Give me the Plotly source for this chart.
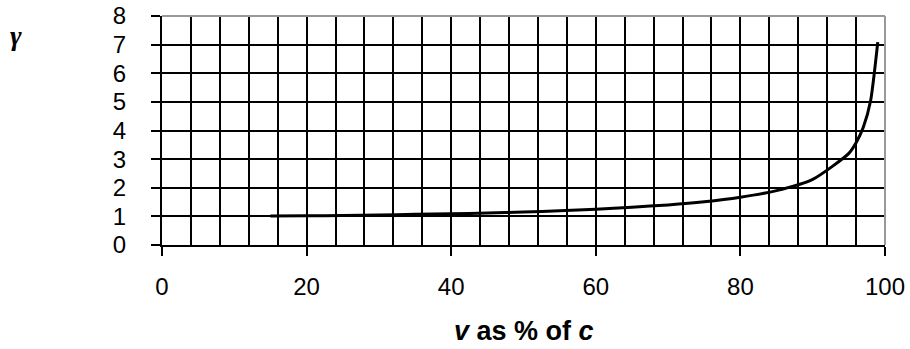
import plotly.graph_objects as go

# data
v_percent = [15, 20, 25, 30, 35, 40, 45, 50, 55, 60, 65, 70, 75, 80, 85, 90, 95, 96, 97, 98, 99]
gamma = [1.01, 1.02, 1.03, 1.05, 1.07, 1.09, 1.12, 1.15, 1.20, 1.25, 1.32, 1.40, 1.51,
         1.67, 1.90, 2.29, 3.20, 3.57, 4.11, 5.03, 7.09]
x_ticks = [0, 20, 40, 60, 80, 100]
y_ticks = [0, 1, 2, 3, 4, 5, 6, 7, 8]

FONT = "Liberation Sans, Arial, sans-serif"

fig = go.Figure()
fig.add_trace(go.Scatter(
    x=v_percent, y=gamma, mode="lines",
    line=dict(color="black", width=3, shape="spline", smoothing=0.6),
    showlegend=False, hoverinfo="skip",
))

fig.update_layout(
    template="none",
    width=910, height=349,
    margin=dict(l=162, r=25, t=16, b=104, autoexpand=False),
    paper_bgcolor="white", plot_bgcolor="white",
    font=dict(family=FONT, color="black"),
    shapes=[
        dict(type="line", xref="paper", yref="paper", x0=0, x1=1, y0=1, y1=1,
             line=dict(color="#999999", width=2)),
        dict(type="line", xref="paper", yref="paper", x0=1, x1=1, y0=0, y1=1,
             line=dict(color="#999999", width=2)),
    ],
    annotations=[
        dict(text="<b><i>γ</i></b>", xref="paper", yref="paper", x=-0.202, y=0.915,
             xanchor="center", yanchor="middle", showarrow=False,
             font=dict(size=28, family="Liberation Serif, Times New Roman, serif")),
        dict(text="<b><i>v</i> as % of <i>c</i></b>", xref="paper", yref="paper",
             x=0.5, y=-0.375, xanchor="center", yanchor="middle", showarrow=False,
             font=dict(size=27, family=FONT)),
    ],
)

fig.update_xaxes(
    range=[0, 100], tickvals=x_ticks, ticktext=[str(t) for t in x_ticks],
    ticks="outside", ticklen=9, tickwidth=2, tickcolor="black",
    showline=True, linecolor="black", linewidth=2,
    showgrid=True, gridcolor="black", gridwidth=1.5,
    minor=dict(dtick=4, tick0=0, showgrid=True, gridcolor="black", gridwidth=1.5, ticks=""),
    tickfont=dict(size=24, family=FONT), ticklabelstandoff=10,
    zeroline=False, fixedrange=True, automargin=False,
)
fig.update_yaxes(
    range=[0, 8], tickvals=y_ticks, ticktext=[str(t) for t in y_ticks],
    ticks="outside", ticklen=9, tickwidth=2, tickcolor="black",
    showline=True, linecolor="black", linewidth=2,
    showgrid=True, gridcolor="black", gridwidth=1.5,
    tickfont=dict(size=24, family=FONT), ticklabelstandoff=20,
    zeroline=False, fixedrange=True, automargin=False,
)

fig.write_html("out.html", config={"displayModeBar": False})

# remove the browser's default body margin so the figure sits at the page origin
with open("out.html", "r", encoding="utf-8") as f:
    html = f.read()
html = html.replace("<head>", "<head><style>html,body{margin:0;padding:0;overflow:hidden;}</style>", 1)
with open("out.html", "w", encoding="utf-8") as f:
    f.write(html)
